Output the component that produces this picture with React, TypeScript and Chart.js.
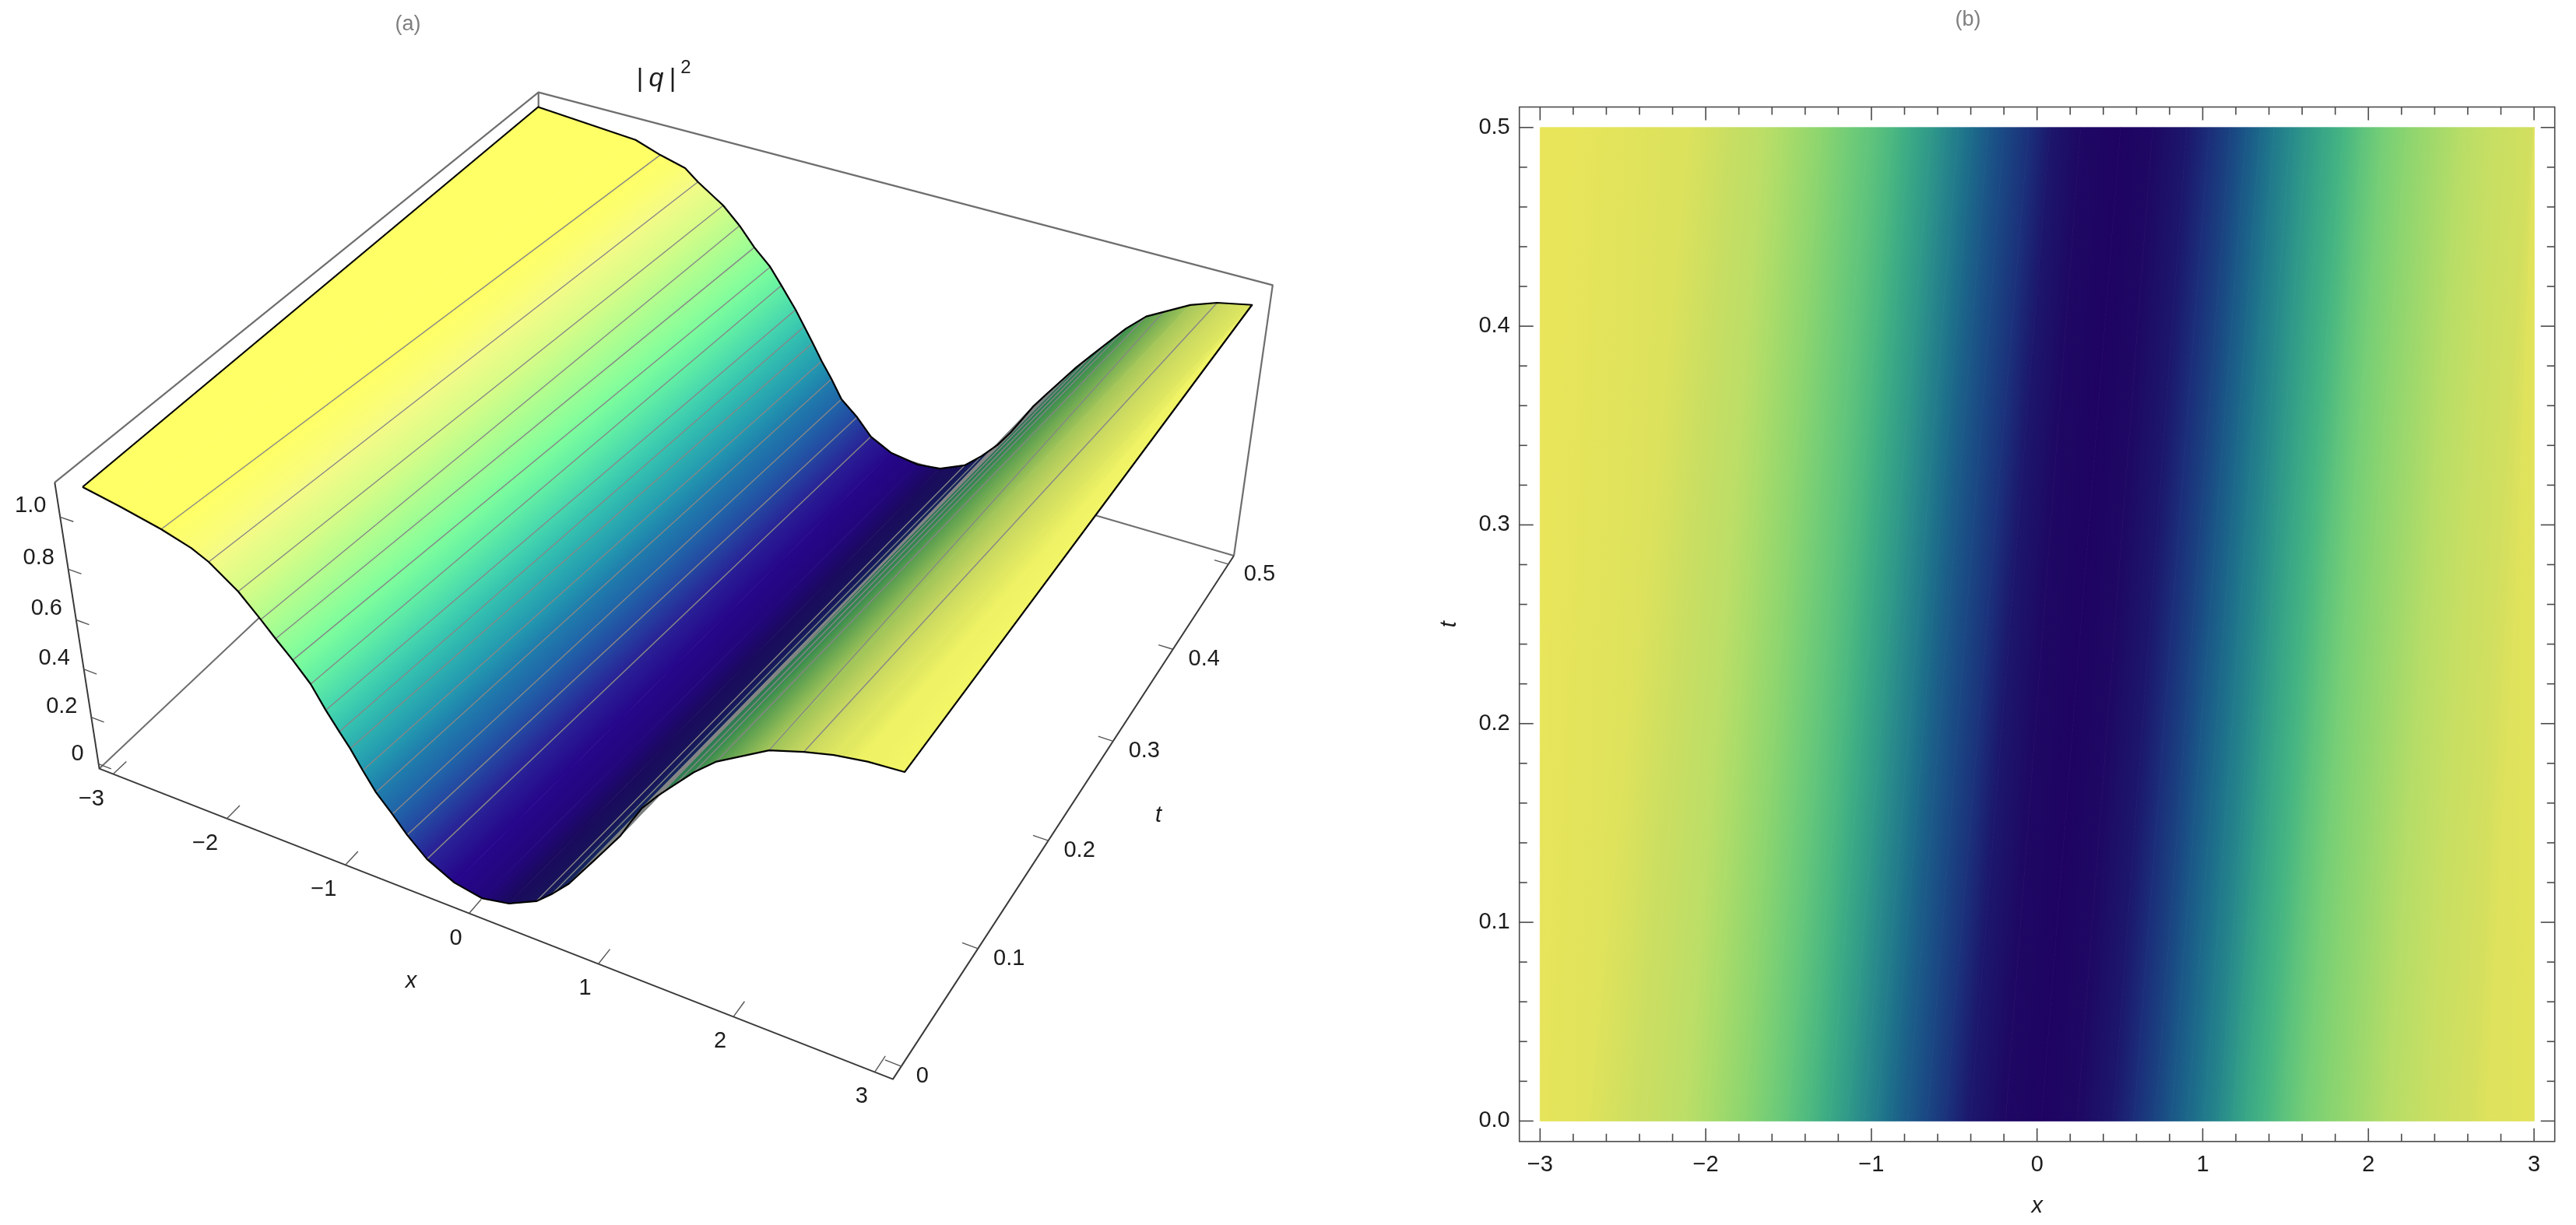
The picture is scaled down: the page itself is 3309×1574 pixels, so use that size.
import React, { useEffect, useRef } from "react";
import { Chart, registerables } from "chart.js";

Chart.register(...registerables);

// ---- data: |q|^2 profile knots along the t = 0 and t = 0.5 edges
const xFront = [-3, -2.7, -2.366, -2.13, -1.996, -1.776, -1.612, -1.505, -1.38, -1.25, -1.144, -1.048, -0.969, -0.88, -0.785, -0.663, -0.553, -0.403, -0.19, 0.026, 0.242, 0.458, 0.584, 0.713, 0.811, 0.91, 1.009, 1.103, 1.18, 1.26, 1.371, 1.496, 1.623, 1.776, 2.126, 2.354, 2.547, 2.764, 3];
const zFront = [1.096, 1.07, 1.036, 1.003, 0.972, 0.896, 0.8165, 0.761, 0.7, 0.629, 0.545, 0.477, 0.424, 0.352, 0.281, 0.215, 0.15, 0.079, 0.023, 0.002, 0.024, 0.079, 0.136, 0.204, 0.272, 0.34, 0.409, 0.475, 0.545, 0.613, 0.681, 0.749, 0.818, 0.886, 0.992, 1.029, 1.054, 1.071, 1.079];
const xBack = [-3, -2.1, -1.876, -1.651, -1.535, -1.306, -1.157, -1.021, -0.875, -0.771, -0.638, -0.556, -0.475, -0.389, -0.295, -0.198, -0.052, 0.079, 0.263, 0.504, 0.698, 0.904, 1.041, 1.167, 1.264, 1.347, 1.43, 1.53, 1.633, 1.736, 1.85, 1.967, 2.086, 2.23, 2.549, 2.744, 3, 3, 3];
const zBack = [1.105, 1.07, 1.034, 1.006, 0.963, 0.893, 0.827, 0.753, 0.689, 0.624, 0.538, 0.477, 0.416, 0.349, 0.284, 0.208, 0.149, 0.081, 0.036, 0.018, 0.029, 0.074, 0.136, 0.204, 0.272, 0.34, 0.409, 0.477, 0.545, 0.613, 0.681, 0.749, 0.818, 0.886, 0.973, 1.007, 1.032, 1.032, 1.032];
const meshKnots = [2, 4, 5, 6, 7, 8, 9, 10, 11, 12, 13, 14, 15, 16, 17, 21, 22, 23, 24, 25, 26, 27, 28, 29, 30, 31, 32, 33, 35];
const ridgeMeshX = [2.126, 2.356];
const ridgeMeshZ = [0.992, 0.921];
const valleyKnot = 19;

// ---- tick values
const xTicks = [-3, -2, -1, 0, 1, 2, 3];
const tTicks3d = [0, 0.1, 0.2, 0.3, 0.4, 0.5];
const zTicks = [0, 0.2, 0.4, 0.6, 0.8, 1];
const tTicksMajor = [0, 0.1, 0.2, 0.3, 0.4, 0.5];
const xMinor = [-2.8, -2.6, -2.4, -2.2, -1.8, -1.6, -1.4, -1.2, -0.8, -0.6, -0.4, -0.2, 0.2, 0.4, 0.6, 0.8, 1.2, 1.4, 1.6, 1.8, 2.2, 2.4, 2.6, 2.8];
const tMinor = [0.02, 0.04, 0.06, 0.08, 0.12, 0.14, 0.16, 0.18, 0.22, 0.24, 0.26, 0.28, 0.32, 0.34, 0.36, 0.38, 0.42, 0.44, 0.46, 0.48];

// ---- colour ramps: value -> colour
const litLevels = [0, 0.02, 0.07, 0.14, 0.2, 0.27, 0.34, 0.41, 0.48, 0.55, 0.62, 0.68, 0.75, 0.82, 0.9, 0.97, 1.03, 1.1];
const litColors = ["#22067A", "#26068A", "#2A1C94", "#2542A0", "#2060A8", "#1E78AB", "#2295B0", "#2AAAB0", "#36C3B0", "#48D8AE", "#60ECA5", "#75FDA0", "#95FE96", "#B8FD8E", "#D9FC88", "#F4FB88", "#FFFF66", "#FFFF66"];
const shadeLevels = [0, 0.024, 0.079, 0.136, 0.204, 0.272, 0.34, 0.41, 0.48, 0.55, 0.62, 0.68, 0.75, 0.82, 0.87, 0.92, 0.97, 1.0, 1.03, 1.05, 1.07, 1.09];
const shadeColors = ["#22067A", "#1A0A5E", "#18125A", "#15205C", "#14285E", "#14345F", "#153F5F", "#184C5E", "#1C585C", "#206558", "#267254", "#2A7A52", "#308250", "#398C4E", "#4C964E", "#6CA852", "#92BC58", "#A8C85A", "#C8D860", "#DDE560", "#EEF264", "#F6F968"];
const densityLevels = [0, 0.06, 0.13, 0.24, 0.37, 0.5, 0.66, 0.79, 0.93, 1.01, 1.05, 1.07, 1.09];
const densityColors = ["#1F0362", "#1D1068", "#1B2B78", "#1A4F86", "#1C6F8B", "#2A8F8B", "#3FB184", "#6CCB78", "#98D86C", "#BFDF66", "#CFDE60", "#DDE25C", "#E8E55A"];

const FONT = '"Liberation Sans", Arial, sans-serif';

function hex(c: string) {
  return [1, 3, 5].map((i) => parseInt(c.slice(i, i + 2), 16));
}
function ramp(levels: number[], colors: string[], z: number) {
  if (z <= levels[0]) return colors[0];
  for (let i = 1; i < levels.length; i++) {
    if (z <= levels[i]) {
      const f = (z - levels[i - 1]) / (levels[i] - levels[i - 1]);
      const a = hex(colors[i - 1]);
      const b = hex(colors[i]);
      return `rgb(${a.map((v, k) => Math.round(v + (b[k] - v) * f)).join(",")})`;
    }
  }
  return colors[colors.length - 1];
}

// ---- perspective camera of panel (a), in normalised box coordinates
const CAM = { a: 873.4, b: 707.7, c: 127.6, d: 222.5, e: -440.4, f: 987.6, g: -0.12729, h: 0.20533, al: -62, be: -410.5, ga: -0.075 };
function fromBox(u: number, v: number, w: number) {
  const q = CAM.g * u + CAM.h * v + CAM.ga * w + 1;
  return {
    x: (CAM.a * u + CAM.b * v + CAM.al * w + CAM.c) / q,
    y: (CAM.d * u + CAM.e * v + CAM.be * w + CAM.f) / q,
  };
}
const U = (x: number) => (x + 3.125) / 6.25;
const V = (t: number) => (t + 0.0104) / 0.5208;
const W = (z: number) => (z + 0.02) / 1.138;
const P = (x: number, t: number, z: number) => fromBox(U(x), V(t), W(z));

function stripGradient(chart: any, pts: { x: number; y: number }[], c0: string, c1: string) {
  if (!chart.chartArea) return c0;
  const sx = chart.scales.x;
  const sy = chart.scales.y;
  const p = pts.map((q) => ({ x: sx.getPixelForValue(q.x), y: sy.getPixelForValue(q.y) }));
  const m0 = { x: (p[0].x + p[1].x) / 2, y: (p[0].y + p[1].y) / 2 };
  const m1 = { x: (p[2].x + p[3].x) / 2, y: (p[2].y + p[3].y) / 2 };
  let dx = p[1].x - p[0].x + p[2].x - p[3].x;
  let dy = p[1].y - p[0].y + p[2].y - p[3].y;
  const len = Math.hypot(dx, dy) || 1;
  dx /= len;
  dy /= len;
  const nx = -dy;
  const ny = dx;
  const dist = (m1.x - m0.x) * nx + (m1.y - m0.y) * ny;
  if (Math.abs(dist) < 0.01) return c0;
  const g = chart.ctx.createLinearGradient(m0.x, m0.y, m0.x + nx * dist, m0.y + ny * dist);
  g.addColorStop(0, c0);
  g.addColorStop(1, c1);
  return g;
}

function stripDataset(pts: { x: number; y: number }[], c0: string, c1: string, bw: number) {
  const paint = (ctx: any) => stripGradient(ctx.chart, pts, c0, c1);
  return {
    data: [...pts, pts[0]],
    showLine: true,
    pointRadius: 0,
    borderWidth: bw,
    borderColor: paint,
    backgroundColor: paint,
    fill: "shape",
    tension: 0,
  };
}
function lineDataset(pts: { x: number; y: number }[], color: string, width: number) {
  return {
    data: pts,
    showLine: true,
    pointRadius: 0,
    borderWidth: width,
    borderColor: color,
    backgroundColor: color,
    fill: false,
    tension: 0,
    borderJoinStyle: "round",
  };
}

function surfaceDatasets() {
  const list: any[] = [];
  const BOX = "#6e6e6e";
  const AXIS = "#3a3a3a";
  const A = fromBox(0, 0, 0);
  const B = fromBox(1, 0, 0);
  const C = fromBox(1, 1, 0);
  const D = fromBox(0, 1, 0);
  const E = fromBox(0, 0, 1.01);
  const Dt = fromBox(0.009, 1, 1.012);
  const F = fromBox(0.995, 1, 0.975);
  list.push(lineDataset([A, D, C], BOX, 2));
  list.push(lineDataset([D, Dt], BOX, 2.2));
  list.push(lineDataset([E, Dt, F, C], BOX, 2.2));

  for (let i = 0; i < xFront.length - 1; i++) {
    const col = (k: number) =>
      k <= valleyKnot ? ramp(litLevels, litColors, zFront[k]) : ramp(shadeLevels, shadeColors, zFront[k]);
    const pts = [P(xFront[i], 0, zFront[i]), P(xBack[i], 0.5, zBack[i]), P(xBack[i + 1], 0.5, zBack[i + 1]), P(xFront[i + 1], 0, zFront[i + 1])];
    list.push(stripDataset(pts, col(i), col(i + 1), 0.8));
  }
  for (const k of meshKnots) {
    list.push(lineDataset([P(xFront[k], 0, zFront[k]), P(xBack[k], 0.5, zBack[k])], "#868686", 1.4));
  }
  list.push(lineDataset([P(ridgeMeshX[0], 0, ridgeMeshZ[0]), P(ridgeMeshX[1], 0.5, ridgeMeshZ[1])], "#868686", 1.4));
  const front = xFront.map((x, i) => P(x, 0, zFront[i]));
  const back = xBack.map((x, i) => P(x, 0.5, zBack[i]));
  list.push(lineDataset([...front, back[back.length - 1], ...back.slice().reverse(), front[0]], "#000000", 2.2));

  list.push(lineDataset([E, A, B, C], AXIS, 2));
  for (const x of xTicks) list.push(lineDataset([fromBox(U(x), 0, 0), fromBox(U(x), 0.025, 0)], "#555555", 1.4));
  for (const t of tTicks3d) list.push(lineDataset([fromBox(1, V(t), 0), fromBox(0.982, V(t), 0)], "#555555", 1.4));
  for (const z of zTicks) list.push(lineDataset([fromBox(0, 0, W(z)), fromBox(0.018, 0, W(z))], "#555555", 1.4));
  return list.reverse();
}

function densityDatasets() {
  const list: any[] = [];
  for (let i = 0; i < xFront.length - 1; i++) {
    const c = (k: number) => ramp(densityLevels, densityColors, zFront[k]);
    const pts = [
      { x: xFront[i], y: 0 },
      { x: xBack[i], y: 0.5 },
      { x: xBack[i + 1], y: 0.5 },
      { x: xFront[i + 1], y: 0 },
    ];
    list.push(stripDataset(pts, c(i), c(i + 1), 0.8));
  }
  return list.reverse();
}

const minus = (v: number) => (v < 0 ? "\u2212" + Math.abs(v) : String(v));

const panelALabels = {
  id: "panelALabels",
  afterDatasetsDraw(chart: any) {
    const { ctx, scales } = chart;
    const sx = (v: number) => scales.x.getPixelForValue(v);
    const sy = (v: number) => scales.y.getPixelForValue(v);
    const put = (text: string, p: { x: number; y: number }, dx: number, dy: number, font: string, color = "#1c1c1c") => {
      ctx.font = font;
      ctx.fillStyle = color;
      ctx.textAlign = "center";
      ctx.textBaseline = "middle";
      ctx.fillText(text, sx(p.x) + dx, sy(p.y) + dy);
    };
    ctx.save();
    const f = `29px ${FONT}`;
    for (const x of xTicks) put(minus(x), fromBox(U(x), 0, 0), x < 0 ? -28 : -17, 32, f);
    for (const t of tTicks3d) put(t === 0 ? "0" : t.toFixed(1), fromBox(1, V(t), 0), t === 0 ? 27 : 40, 13, f);
    for (const z of zTicks) put(z === 0 ? "0" : z.toFixed(1), fromBox(0, 0, W(z)), z === 0 ? -27 : -38, z === 0 ? -13 : -14, f);
    const origin = { x: 0, y: 0 };
    put("x", origin, 528, 1261, `italic 29px ${FONT}`);
    put("t", origin, 1488, 1048, `italic 29px ${FONT}`);
    put("(a)", origin, 524, 32, `27px ${FONT}`, "#7f7f7f");
    put("|", origin, 822, 102, `33px ${FONT}`);
    put("q", origin, 843, 102, `italic 34px ${FONT}`);
    put("|", origin, 864, 102, `33px ${FONT}`);
    put("2", origin, 881, 87, `24px ${FONT}`);
    ctx.restore();
  },
};

const panelBFrame = {
  id: "panelBFrame",
  afterDatasetsDraw(chart: any) {
    const { ctx, chartArea: a, scales } = chart;
    const tick = (x0: number, y0: number, x1: number, y1: number) => {
      ctx.beginPath();
      ctx.moveTo(x0, y0);
      ctx.lineTo(x1, y1);
      ctx.stroke();
    };
    ctx.save();
    ctx.strokeStyle = "#4a4a4a";
    ctx.lineWidth = 1.6;
    ctx.strokeRect(a.left, a.top, a.right - a.left, a.bottom - a.top);
    for (const [vals, len] of [[xTicks, 17], [xMinor, 10]] as [number[], number][]) {
      for (const v of vals) {
        const p = scales.x.getPixelForValue(v);
        tick(p, a.bottom, p, a.bottom - len);
        tick(p, a.top, p, a.top + len);
      }
    }
    for (const [vals, len] of [[tTicksMajor, 18], [tMinor, 10]] as [number[], number][]) {
      for (const v of vals) {
        const p = scales.y.getPixelForValue(v);
        tick(a.left, p, a.left + len, p);
        tick(a.right, p, a.right - len, p);
      }
    }
    ctx.fillStyle = "#7f7f7f";
    ctx.font = `27px ${FONT}`;
    ctx.textAlign = "center";
    ctx.textBaseline = "middle";
    ctx.fillText("(b)", 2528 - 1700, 26);
    ctx.restore();
  },
};

export default function App() {
  const leftRef = useRef<HTMLCanvasElement>(null);
  const rightRef = useRef<HTMLCanvasElement>(null);

  useEffect(() => {
    const left = new Chart(leftRef.current as HTMLCanvasElement, {
      type: "scatter",
      data: { datasets: surfaceDatasets() },
      plugins: [panelALabels],
      options: {
        animation: false,
        responsive: false,
        events: [],
        devicePixelRatio: 1,
        layout: { padding: 0 },
        plugins: { legend: { display: false }, tooltip: { enabled: false }, title: { display: false } },
        scales: {
          x: { type: "linear", display: false, min: 0, max: 1700 },
          y: { type: "linear", display: false, min: 0, max: 1574, reverse: true },
        },
      },
    } as any);

    const tickFont = { family: FONT, size: 29 };
    const right = new Chart(rightRef.current as HTMLCanvasElement, {
      type: "scatter",
      data: { datasets: densityDatasets() },
      plugins: [panelBFrame],
      options: {
        animation: false,
        responsive: false,
        events: [],
        devicePixelRatio: 1,
        layout: { padding: { left: 0, top: 137.5, right: 27.3, bottom: 0 } },
        plugins: { legend: { display: false }, tooltip: { enabled: false }, title: { display: false } },
        scales: {
          x: {
            type: "linear",
            min: -3.125,
            max: 3.125,
            grid: { display: false, drawTicks: false },
            border: { display: false },
            afterFit: (s: any) => {
              s.height = 107.3;
            },
            afterBuildTicks: (s: any) => {
              s.ticks = xTicks.map((value) => ({ value }));
            },
            ticks: {
              padding: 13,
              color: "#1c1c1c",
              font: tickFont,
              maxRotation: 0,
              autoSkip: false,
              callback: (v: number) => minus(v),
            },
            title: { display: true, text: "x", color: "#1c1c1c", font: { family: FONT, size: 29, style: "italic" }, padding: { top: 0, bottom: 7 } },
          },
          y: {
            type: "linear",
            min: -0.0103,
            max: 0.5103,
            grid: { display: false, drawTicks: false },
            border: { display: false },
            afterFit: (s: any) => {
              s.width = 251.7;
            },
            afterBuildTicks: (s: any) => {
              s.ticks = tTicksMajor.map((value) => ({ value }));
            },
            ticks: {
              padding: 12,
              color: "#1c1c1c",
              font: tickFont,
              autoSkip: false,
              callback: (v: number) => v.toFixed(1),
            },
            title: { display: true, text: "t", color: "#1c1c1c", font: { family: FONT, size: 29, style: "italic" }, padding: { top: 145, bottom: 0 } },
          },
        },
      },
    } as any);

    return () => {
      left.destroy();
      right.destroy();
    };
  }, []);

  return (
    <div style={{ position: "fixed", left: 0, top: 0, width: 3309, height: 1574, background: "#ffffff", overflow: "hidden" }}>
      <canvas ref={leftRef} width={1700} height={1574} style={{ position: "absolute", left: 0, top: 0, width: 1700, height: 1574 }} />
      <canvas ref={rightRef} width={1609} height={1574} style={{ position: "absolute", left: 1700, top: 0, width: 1609, height: 1574 }} />
    </div>
  );
}
